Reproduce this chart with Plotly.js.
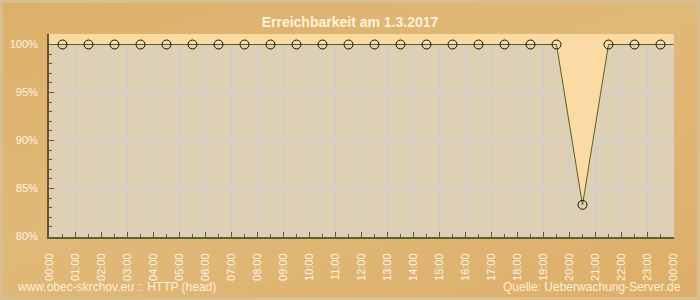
<!DOCTYPE html>
<html>
<head>
<meta charset="utf-8">
<script src="https://cdn.plot.ly/plotly-3.0.1.min.js"></script>
<style>
  html, body { margin: 0; padding: 0; }
  body { width: 700px; height: 300px; overflow: hidden; }
  #frame {
    position: absolute; left: 0; top: 0; width: 694px; height: 294px;
    border: 3px solid #D9BE90;
    background: linear-gradient(160deg, #DDB06A 0%, #E0B877 45%, #DFB574 70%, #DDAE68 100%);
  }
  #chart { position: absolute; left: 0; top: 0; width: 700px; height: 300px; }
</style>
</head>
<body>
<div id="frame"></div>
<div id="chart"></div>
<script>
// Measurement times (hours of day) and availability values (%)
const times = [0.5, 1.5, 2.5, 3.5, 4.5, 5.5, 6.5, 7.5, 8.5, 9.5, 10.5, 11.5,
               12.5, 13.5, 14.5, 15.5, 16.5, 17.5, 18.5, 19.5, 20.5, 21.5, 22.5, 23.5];
const availability = [100, 100, 100, 100, 100, 100, 100, 100, 100, 100, 100, 100,
                      100, 100, 100, 100, 100, 100, 100, 100, 83.3, 100, 100, 100];
const hourTicks = [0, 1, 2, 3, 4, 5, 6, 7, 8, 9, 10, 11, 12, 13, 14, 15, 16, 17, 18, 19, 20, 21, 22, 23, 24];
const hourLabels = ["00:00", "01:00", "02:00", "03:00", "04:00", "05:00", "06:00", "07:00", "08:00",
                    "09:00", "10:00", "11:00", "12:00", "13:00", "14:00", "15:00", "16:00", "17:00",
                    "18:00", "19:00", "20:00", "21:00", "22:00", "23:00", "00:00"];
const titleText = "Erreichbarkeit am 1.3.2017";
const footerLeft = "www.obec-skrchov.eu :: HTTP (head)";
const footerRight = "Quelle: Ueberwachung-Server.de";

// Plot-area geometry chosen so that grid lines fall on pixel centres (crisp)
const mL = 49, plotW = 625, mT = 34, plotH = 203;
const pxPerHour = 26, pxPerPct = 9.6;
const xStart = hourTicks[0] - 0.5 / pxPerHour;
const xEnd = xStart + plotW / pxPerHour;
const yTop = 100 + 10.5 / pxPerPct;
const yBottom = yTop - plotH / pxPerPct;

// line extended to the axis edges
const xLine = [hourTicks[0]].concat(times, [hourTicks[hourTicks.length - 1]]);
const yLine = [availability[0]].concat(availability, [availability[availability.length - 1]]);

const lineColor = '#5E5E24';
const txt = '#FFF4E2';
const gridCol = '#C8CCD8';

const traces = [
  { x: xLine, y: xLine.map(() => yTop), mode: 'lines', line: { width: 0 }, hoverinfo: 'skip', showlegend: false },
  { x: xLine, y: yLine, mode: 'lines', fill: 'tonexty', fillcolor: 'rgba(255,219,162,0.88)',
    line: { color: lineColor, width: 1 }, showlegend: false },
  { x: times, y: availability, mode: 'markers',
    marker: { symbol: 'circle-open', size: 9, color: '#111111', line: { width: 1, color: '#111111' } },
    showlegend: false }
];

const layout = {
  width: 700, height: 300,
  margin: { l: mL, r: 700 - mL - plotW, t: mT, b: 300 - mT - plotH },
  paper_bgcolor: 'rgba(0,0,0,0)',
  plot_bgcolor: '#DED0B5',
  font: { family: 'Liberation Sans, Arial, sans-serif', color: txt, size: 11 },
  title: { text: '<b>' + titleText + '</b>', x: 0.5, xanchor: 'center', y: 0.925, yanchor: 'middle',
           font: { size: 14, color: '#FFF1D8', family: 'Liberation Sans, Arial, sans-serif' } },
  xaxis: {
    range: [xStart, xEnd], tickmode: 'array', tickvals: hourTicks, ticktext: hourLabels,
    tickangle: -90, ticks: 'inside', ticklen: 5, tickwidth: 1, tickcolor: '#5E5E3A',
    showline: true, linecolor: '#5E5E3A', linewidth: 2,
    showgrid: true, gridcolor: gridCol, gridwidth: 1, zeroline: false,
    ticklabelstandoff: 10,
    tickfont: { size: 11, color: txt },
    minor: { tickmode: 'array', tickvals: times, ticks: 'inside', ticklen: 3, tickcolor: '#5E5E3A', showgrid: false },
    fixedrange: true
  },
  yaxis: {
    range: [yBottom, yTop], tickmode: 'linear', tick0: 80, dtick: 5, ticksuffix: '%',
    ticks: 'inside', ticklen: 5, tickwidth: 1, tickcolor: '#6B5428',
    showline: true, linecolor: '#6B5428', linewidth: 2,
    showgrid: true, gridcolor: gridCol, gridwidth: 1, zeroline: false,
    ticklabelstandoff: 7,
    tickfont: { size: 11, color: txt },
    minor: { dtick: 1, ticks: 'inside', ticklen: 3, tickcolor: '#6B5428', showgrid: false },
    fixedrange: true
  },
  annotations: [
    { text: footerLeft, xref: 'paper', yref: 'paper', x: -34 / plotW, y: -50 / plotH, xanchor: 'left', yanchor: 'middle',
      showarrow: false, font: { size: 12, color: '#FFF0D6' } },
    { text: footerRight, xref: 'paper', yref: 'paper', x: 1 + 9 / plotW, y: -50 / plotH, xanchor: 'right', yanchor: 'middle',
      showarrow: false, font: { size: 12, color: '#FFF0D6' } }
  ]
};

Plotly.newPlot('chart', traces, layout, { staticPlot: true, displayModeBar: false });
</script>
</body>
</html>
